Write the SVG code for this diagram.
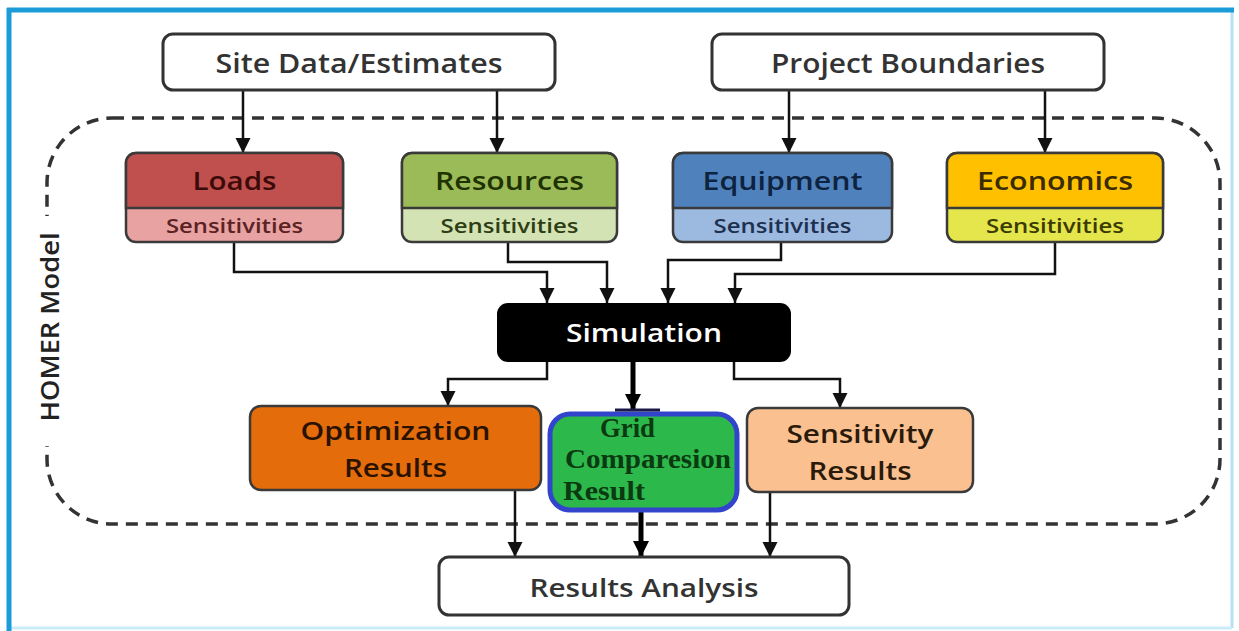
<svg xmlns="http://www.w3.org/2000/svg" width="1239" height="631" viewBox="0 0 1239 631">
<defs>
<marker id="ah" viewBox="0 0 16 16" refX="16" refY="8" markerWidth="15" markerHeight="16" markerUnits="userSpaceOnUse" orient="auto">
<path d="M0,0 L16,8 L0,16 Z" fill="#111"/>
</marker>
<marker id="ahb" viewBox="0 0 16 16" refX="16" refY="8" markerWidth="16" markerHeight="17" markerUnits="userSpaceOnUse" orient="auto">
<path d="M0,0 L16,8 L0,16 Z" fill="#000"/>
</marker>
</defs>
<style>
.t{font-family:"Open Sans","Liberation Sans",sans-serif;font-weight:600;text-anchor:middle;lengthAdjust:spacingAndGlyphs}
.box{stroke:#333;stroke-width:3}
.cbox{stroke:#3a3a3a;stroke-width:2.5}
.c{fill:none;stroke:#111;stroke-width:2.5;marker-end:url(#ah)}
.ck{fill:none;stroke:#000;stroke-width:5;marker-end:url(#ahb)}
.g{font-family:"Liberation Serif","Times New Roman",serif;font-weight:bold;fill:#0b3a12;font-size:27px}
</style>
<rect width="1239" height="631" fill="#fff"/>
<!-- outer frame -->
<g id="frame">
<line x1="1232" y1="10" x2="1232" y2="628" stroke="#b5e2f3" stroke-width="3"/>
<line x1="9" y1="628" x2="1232" y2="628" stroke="#c9ecf7" stroke-width="3"/>
<line x1="7" y1="10" x2="1234" y2="10" stroke="#1b9bd7" stroke-width="5"/>
<line x1="9" y1="8" x2="9" y2="631" stroke="#1b9bd7" stroke-width="5"/>
</g>
<!-- HOMER model boundary -->
<g id="homer-model">
<rect x="47" y="118" width="1173" height="406" rx="65" ry="65" fill="none" stroke="#333" stroke-width="3.5" stroke-dasharray="12 8"/>
<rect x="35" y="216" width="28" height="230" fill="#fff"/>
<text class="t" transform="translate(59,327) rotate(-90)" x="0" y="0" font-size="25" fill="#222" textLength="189" lengthAdjust="spacingAndGlyphs">HOMER Model</text>
</g>
<g id="connectors">
<line class="c" x1="243" y1="90" x2="243" y2="153"/>
<line class="c" x1="497" y1="90" x2="497" y2="153"/>
<line class="c" x1="789" y1="90" x2="789" y2="153"/>
<line class="c" x1="1045" y1="90" x2="1045" y2="153"/>
<polyline class="c" points="234,243 234,272 547,272 547,303"/>
<polyline class="c" points="508,243 508,262 607,262 607,303"/>
<polyline class="c" points="781,243 781,260 668,260 668,303"/>
<polyline class="c" points="1055,243 1055,274 735,274 735,303"/>
<polyline class="c" points="547,362 547,379 448,379 448,406"/>
<polyline class="c" points="734,362 734,379 840,379 840,408"/>
<line class="ck" x1="633" y1="362" x2="633" y2="410"/>
<line class="c" x1="515" y1="490" x2="515" y2="557"/>
<line class="ck" x1="641" y1="512" x2="641" y2="557"/>
<line class="c" x1="770" y1="492" x2="770" y2="557"/>
</g>
<g id="site-data">
<rect class="box" x="163" y="34" width="392" height="56" rx="10" fill="#fff"/>
<text class="t" x="359" y="73" font-size="27" fill="#333" textLength="287" lengthAdjust="spacingAndGlyphs">Site Data/Estimates</text>
</g>
<g id="project-boundaries">
<rect class="box" x="712" y="34" width="392" height="56" rx="10" fill="#fff"/>
<text class="t" x="908" y="73" font-size="27" fill="#333" textLength="274" lengthAdjust="spacingAndGlyphs">Project Boundaries</text>
</g>
<g id="loads">
<rect class="cbox" x="126" y="153" width="217" height="89" rx="10" fill="#e8a2a2"/>
<path class="cbox" d="M126,208 V163 a10,10 0 0 1 10,-10 H333 a10,10 0 0 1 10,10 V208 Z" fill="#c0504d"/>
<text class="t" x="234.5" y="190" font-size="25" fill="#3d0a0a" textLength="84" lengthAdjust="spacingAndGlyphs">Loads</text>
<text class="t" x="234.5" y="233" font-size="20" fill="#5a2222" textLength="137" lengthAdjust="spacingAndGlyphs">Sensitivities</text>
</g>
<g id="resources">
<rect class="cbox" x="402" y="153" width="215" height="89" rx="10" fill="#d3e3b3"/>
<path class="cbox" d="M402,208 V163 a10,10 0 0 1 10,-10 H607 a10,10 0 0 1 10,10 V208 Z" fill="#9bbb59"/>
<text class="t" x="509.5" y="190" font-size="25" fill="#1f3300" textLength="149" lengthAdjust="spacingAndGlyphs">Resources</text>
<text class="t" x="509.5" y="233" font-size="20" fill="#2d3d14" textLength="138" lengthAdjust="spacingAndGlyphs">Sensitivities</text>
</g>
<g id="equipment">
<rect class="cbox" x="673" y="153" width="219" height="89" rx="10" fill="#9cb9df"/>
<path class="cbox" d="M673,208 V163 a10,10 0 0 1 10,-10 H882 a10,10 0 0 1 10,10 V208 Z" fill="#4f81bd"/>
<text class="t" x="782.5" y="190" font-size="25" fill="#0d2340" textLength="160" lengthAdjust="spacingAndGlyphs">Equipment</text>
<text class="t" x="782.5" y="233" font-size="20" fill="#1d3050" textLength="138" lengthAdjust="spacingAndGlyphs">Sensitivities</text>
</g>
<g id="economics">
<rect class="cbox" x="947" y="153" width="216" height="89" rx="10" fill="#e4e64c"/>
<path class="cbox" d="M947,208 V163 a10,10 0 0 1 10,-10 H1153 a10,10 0 0 1 10,10 V208 Z" fill="#ffc000"/>
<text class="t" x="1055" y="190" font-size="25" fill="#3b2b00" textLength="156" lengthAdjust="spacingAndGlyphs">Economics</text>
<text class="t" x="1055" y="233" font-size="20" fill="#3b3b00" textLength="138" lengthAdjust="spacingAndGlyphs">Sensitivities</text>
</g>
<g id="simulation">
<rect x="497" y="303" width="294" height="59" rx="11" fill="#000"/>
<text class="t" x="644" y="342" font-size="26" fill="#fff" font-weight="700" textLength="156" lengthAdjust="spacingAndGlyphs">Simulation</text>
</g>
<g id="optimization">
<rect class="cbox" x="250" y="406" width="291" height="84" rx="11" fill="#e46c0a" stroke="#3a1a00"/>
<text class="t" x="395.5" y="440" font-size="25" fill="#2a1200" textLength="190" lengthAdjust="spacingAndGlyphs">Optimization</text>
<text class="t" x="395.5" y="477" font-size="25" fill="#2a1200" textLength="103" lengthAdjust="spacingAndGlyphs">Results</text>
</g>
<g id="grid-comparison">
<rect x="550" y="414" width="187" height="96" rx="20" fill="#2db84b" stroke="#3344cc" stroke-width="5"/>
<line x1="615" y1="410" x2="660" y2="410" stroke="#1a1a4a" stroke-width="3"/>
<text class="g" x="600" y="437" textLength="55" lengthAdjust="spacingAndGlyphs">Grid</text>
<text class="g" x="565" y="468" textLength="166" lengthAdjust="spacingAndGlyphs">Comparesion</text>
<text class="g" x="563" y="500" textLength="82" lengthAdjust="spacingAndGlyphs">Result</text>
</g>
<g id="sensitivity-results">
<rect class="cbox" x="747" y="408" width="226" height="84" rx="11" fill="#fac090" stroke="#3a2a1a"/>
<text class="t" x="860" y="443" font-size="25" fill="#2a1a0a" textLength="147" lengthAdjust="spacingAndGlyphs">Sensitivity</text>
<text class="t" x="860" y="480" font-size="25" fill="#2a1a0a" textLength="103" lengthAdjust="spacingAndGlyphs">Results</text>
</g>
<g id="results-analysis">
<rect class="box" x="439" y="557" width="410" height="58" rx="10" fill="#fff"/>
<text class="t" x="644" y="597" font-size="25" fill="#333" textLength="229" lengthAdjust="spacingAndGlyphs">Results Analysis</text>
</g>
</svg>
